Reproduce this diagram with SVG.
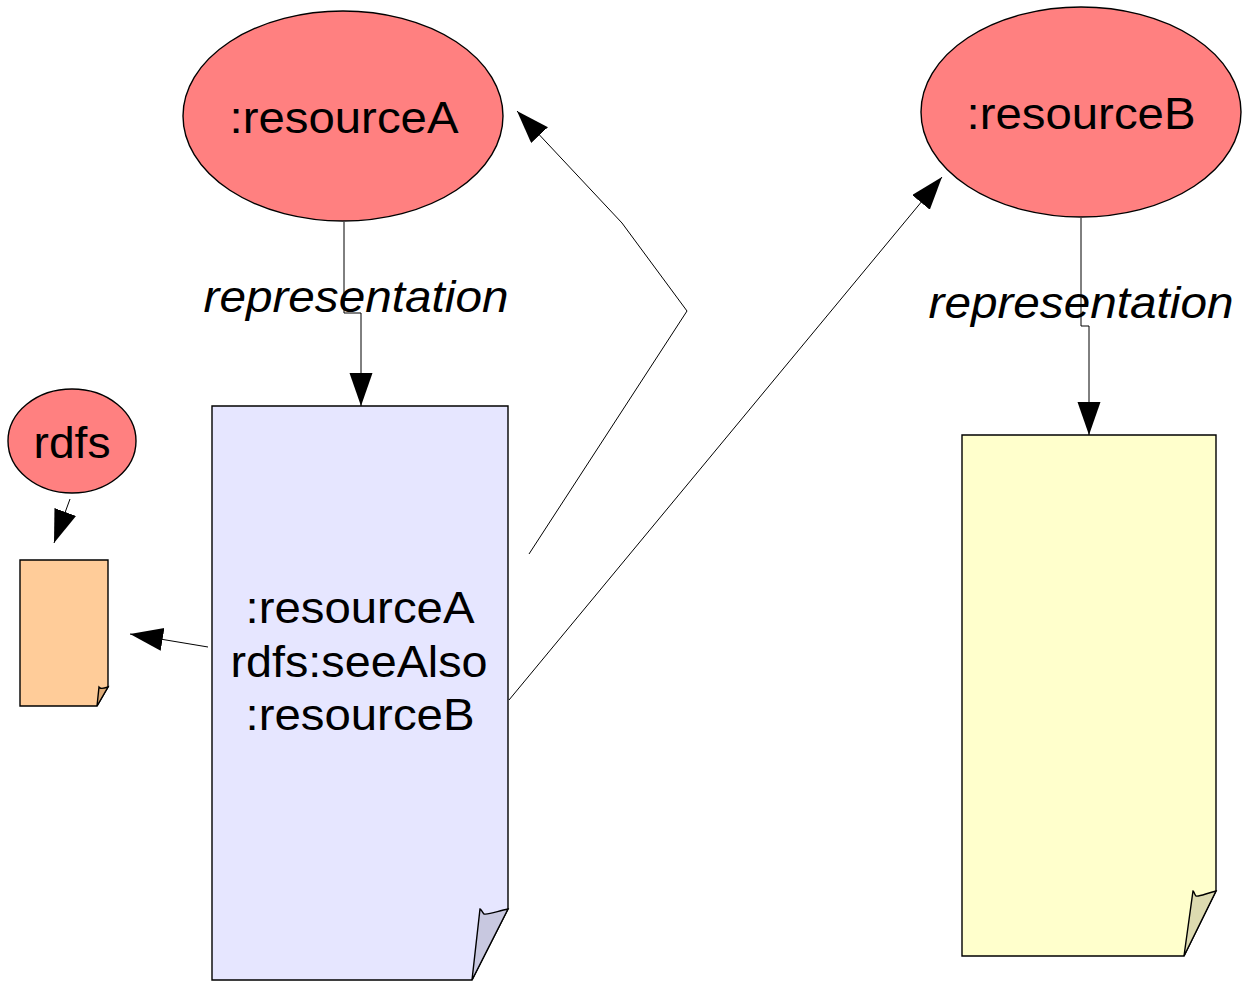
<svg xmlns="http://www.w3.org/2000/svg" width="1244" height="985" viewBox="0 0 1244 985">
  <style>
    .res { fill: #ff8080; stroke: #000; stroke-width: 1.4; }
    .page { stroke: #000; stroke-width: 1.4; stroke-linejoin: miter; }
    .fold { stroke: #000; stroke-width: 1.4; }
    .lbl { font-family: "Liberation Sans", Arial, sans-serif; font-size: 44px; fill: #000; text-anchor: middle; }
    .prop { font-family: "Liberation Sans", Arial, sans-serif; font-size: 44px; font-style: italic; fill: #000; text-anchor: middle; }
    .conn { fill: none; stroke: #000; stroke-width: 1; }
  </style>
  <defs>
    <marker id="arrow" markerUnits="userSpaceOnUse" markerWidth="34" markerHeight="24" refX="33" refY="11.5" orient="auto">
      <path d="M0,0 L33,11.5 L0,23 Z" fill="#000"/>
    </marker>
  </defs>

  <rect width="1244" height="985" fill="#fff"/>

  <!-- resources -->
  <g id="resourceA">
    <ellipse class="res" cx="343" cy="116" rx="160" ry="105"/>
    <text class="lbl" x="344" y="133" textLength="229" lengthAdjust="spacingAndGlyphs">:resourceA</text>
  </g>
  <g id="resourceB">
    <ellipse class="res" cx="1081" cy="112" rx="160" ry="105"/>
    <text class="lbl" x="1081" y="129" textLength="229" lengthAdjust="spacingAndGlyphs">:resourceB</text>
  </g>
  <g id="rdfs">
    <ellipse class="res" cx="72" cy="441" rx="64" ry="52"/>
    <text class="lbl" x="72" y="458" textLength="77" lengthAdjust="spacingAndGlyphs">rdfs</text>
  </g>

  <!-- documents -->
  <g id="docA">
    <path class="page" fill="#e6e6ff" d="M212,406 H508 V909 L472,980 H212 Z"/>
    <path class="fold" fill="#c8c8e0" d="M508,909 C498,911 489,915 484,914 C482,912 481,909 480,909 L472,980 Z"/>
    <text class="lbl" x="360" y="623" textLength="229" lengthAdjust="spacingAndGlyphs">:resourceA</text>
    <text class="lbl" x="359" y="677" textLength="257" lengthAdjust="spacingAndGlyphs">rdfs:seeAlso</text>
    <text class="lbl" x="360" y="730" textLength="229" lengthAdjust="spacingAndGlyphs">:resourceB</text>
  </g>
  <g id="docB">
    <path class="page" fill="#ffffcc" d="M962,435 H1216 V891 L1184,956 H962 Z"/>
    <path class="fold" fill="#dddbb0" d="M1216,891 C1207,893 1199,897 1196,896 C1194,894 1194,891 1193,891 L1184,956 Z"/>
  </g>
  <g id="rdfsDoc">
    <path class="page" fill="#ffcc99" d="M20,560 H108 V687 L97,706 H20 Z"/>
    <path class="fold" fill="#ddaa77" d="M108,687 C105,688 102,689 100,688 L99,687 L97,706 Z"/>
  </g>

  <!-- connectors -->
  <g id="connectors">
    <polyline class="conn" points="344,222 344,313 361,313 361,406" marker-end="url(#arrow)"/>
    <polyline class="conn" points="1081,218 1081,326 1089,326 1089,435" marker-end="url(#arrow)"/>
    <polyline class="conn" points="529,554 687,311 622,223 517,111" marker-end="url(#arrow)"/>
    <line class="conn" x1="509" y1="700" x2="942" y2="177" marker-end="url(#arrow)"/>
    <line class="conn" x1="208" y1="647" x2="130" y2="634" marker-end="url(#arrow)"/>
    <line class="conn" x1="70" y1="499" x2="54" y2="543" marker-end="url(#arrow)"/>
  </g>

  <!-- property labels -->
  <g id="labels">
    <text class="prop" x="356" y="312" textLength="305" lengthAdjust="spacingAndGlyphs">representation</text>
    <text class="prop" x="1081" y="318" textLength="305" lengthAdjust="spacingAndGlyphs">representation</text>
  </g>
</svg>
